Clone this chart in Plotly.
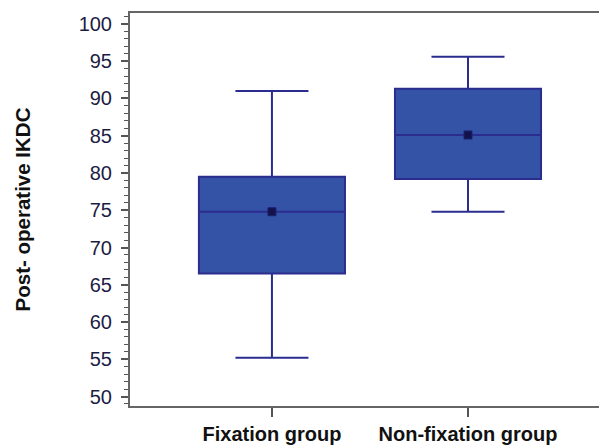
import plotly.graph_objects as go

groups = ["Fixation group", "Non-fixation group"]
q1 = [66.5, 79.2]
median = [74.8, 85.1]
q3 = [79.5, 91.3]
lower = [55.2, 74.8]
upper = [91.0, 95.6]
means = [74.8, 85.1]

y_ticks = [50, 55, 60, 65, 70, 75, 80, 85, 90, 95, 100]

fill = "#3553A6"
edge = "#2A2D8E"

fig = go.Figure()
fig.add_trace(go.Box(
    x=groups, q1=q1, median=median, q3=q3,
    lowerfence=lower, upperfence=upper,
    fillcolor=fill, line=dict(color=edge, width=2),
    width=0.745, whiskerwidth=0.5, boxpoints=False,
    showlegend=False, hoverinfo="skip",
))
fig.add_trace(go.Scatter(
    x=groups, y=means, mode="markers",
    marker=dict(symbol="square", size=8, color="#12134A",
                line=dict(color="#1E2070", width=1)),
    showlegend=False, hoverinfo="skip",
))

# page body has an 8px margin, so the figure is sized/placed to compensate
fig.update_layout(
    width=599, height=440,
    margin=dict(l=122, r=0, t=5, b=42),
    plot_bgcolor="white", paper_bgcolor="white",
    font=dict(family="Liberation Sans, Arial, sans-serif", color="#1a1a3a"),
)
fig.update_xaxes(
    type="category", range=[-0.724, 1.709],
    showline=True, linecolor="#666666", linewidth=2, mirror=True,
    ticks="outside", ticklen=9, tickcolor="#555555", tickwidth=1.5,
    tickfont=dict(size=20, family="Liberation Sans, Arial, sans-serif", color="#111111", weight="bold"),
    showgrid=False, zeroline=False,
)
fig.update_yaxes(
    range=[48.73, 101.47],
    tickvals=y_ticks, ticktext=[str(v) for v in y_ticks],
    showline=True, linecolor="#666666", linewidth=2, mirror=False,
    ticks="outside", ticklen=7, tickcolor="#555555", tickwidth=1.5,
    minor=dict(dtick=1, ticks="outside", ticklen=4, tickcolor="#555555", tickwidth=1.2, showgrid=False),
    tickfont=dict(size=20, color="#1c1c44"),
    ticklabelstandoff=5,
    showgrid=False, zeroline=False,
    title=dict(text="Post- operative IKDC", font=dict(size=20.5, color="#111111", weight="bold"), standoff=42),
)

fig.write_html("out.html")
